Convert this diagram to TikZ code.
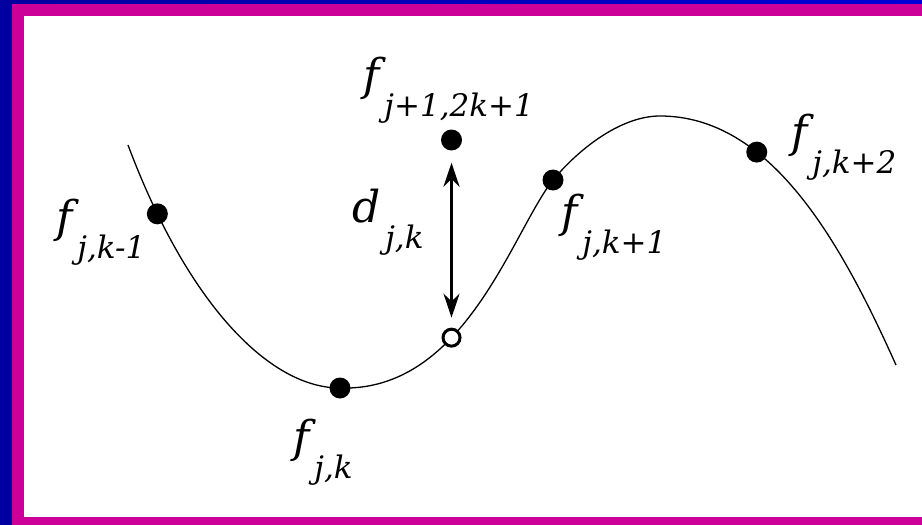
\documentclass[tikz,border=0pt]{standalone}
\usepackage{fontspec}
\setmainfont{DejaVu Serif}[ItalicFont={DejaVu Serif Italic}]
\usetikzlibrary{arrows.meta, positioning}
\definecolor{frameblue}{RGB}{0,0,160}
\definecolor{framebright}{RGB}{0,0,215}
\definecolor{framemag}{RGB}{204,0,153}
\newcommand{\lab}[2]{{\fontsize{44}{44}\selectfont\itshape #1}\hspace{5pt}\raisebox{-26pt}{\fontsize{31}{31}\selectfont\itshape #2}}
\tikzset{
    dot/.style={circle, fill=black, inner sep=0pt, minimum size=21pt},
    hollow/.style={circle, draw=black, line width=3pt, fill=white, inner sep=0pt, minimum size=17pt},
    lbl/.style={anchor=north west, inner sep=0pt},
    curve/.style={line width=1.3pt, black},
    arrow/.style={{Stealth[length=24pt,width=16pt]}-{Stealth[length=24pt,width=16pt]}, line width=3pt}
}
\begin{document}
\begin{tikzpicture}[x=1pt, y=-1pt]
    \useasboundingbox (0,0) rectangle (922,525);
    % frame
    \fill[frameblue] (0,0) rectangle (922,525);
    \shade[left color=frameblue, right color=framebright] (12,0) rectangle (922,4);
    \fill[framemag] (12,4) rectangle (922,525);
    \fill[white] (24,16) rectangle (922,517);

    % the signal
    \coordinate (start) at (128,145);
    \coordinate (fjk) at (340,388);
    \coordinate (fjkp1) at (553,180);
    \coordinate (top) at (660,116);
    \coordinate (stop) at (896,365);

    \draw [curve] (start) .. controls (188,305) and (270,388) .. (fjk)
        node [dot, pos=0.155] (dfjkm1) {}
        .. controls (465,392) and (512,232) .. (fjkp1)
        node [hollow, pos=0.375] (dfmid) {}
        .. controls (578,150) and (620,116) .. (top)
        .. controls (770,116) and (840,240) .. (stop)
        node [dot, pos=0.33] (dfjkp2) {};
    \node (dfjk) [dot] at (fjk) {};
    \node (dfjkp1) [dot] at (fjkp1) {};
    \node (dfup) [dot] at (dfmid |- 0,140) {};

    \draw [arrow, shorten <=12pt, shorten >=10pt] (dfup) -- (dfmid);

    % labels
    \node (lfjkm1) [lbl] at (56,199) {\lab{f}{j,k-1}};
    \node (ldjk) [lbl] at (352,189) {\lab{d}{j,k}};
    \node (lfup) [lbl] at (363,57) {\lab{f}{j+1,2k+1}};
    \node (lfjk) [lbl] at (293,419) {\lab{f}{j,k}};
    \node (lfjkp1) [lbl] at (561,194) {\lab{f}{j,k+1}};
    \node (lfjkp2) [lbl] at (791,114) {\lab{f}{j,k+2}};
\end{tikzpicture}
\end{document}
